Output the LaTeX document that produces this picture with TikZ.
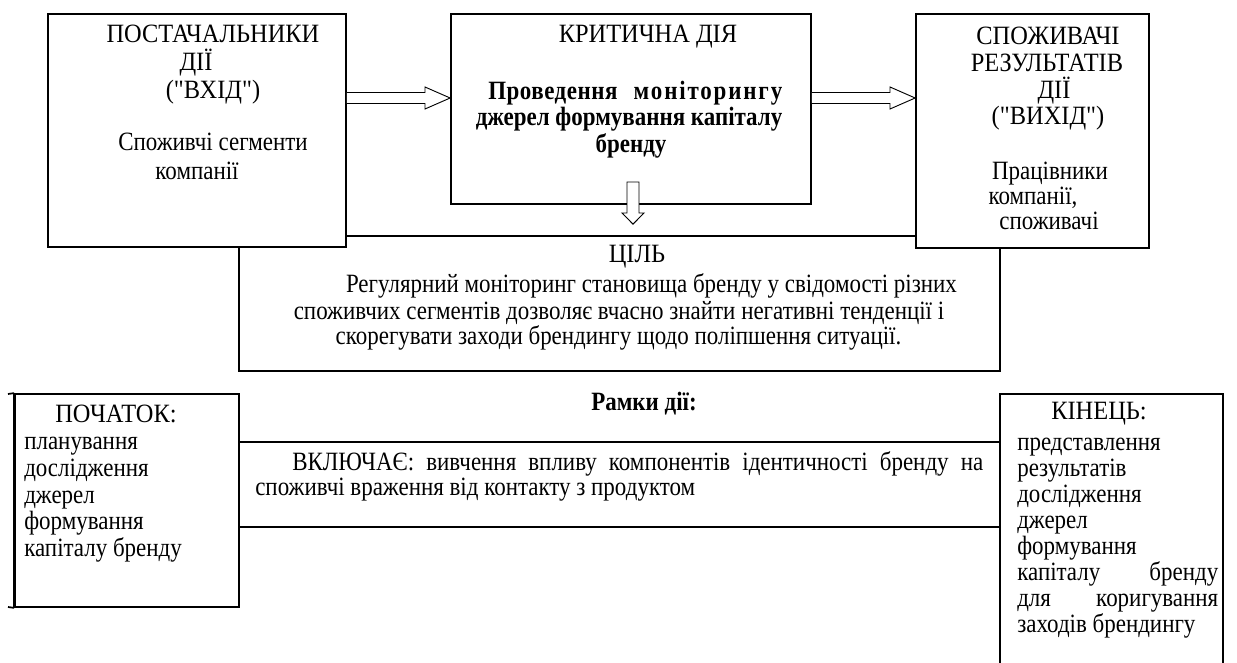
\documentclass[tikz,border=0pt]{standalone}
\usepackage{fontspec}
\setmainfont{Liberation Serif}[FakeStretch=0.87, Ligatures=TeXOff]
\newfontfamily\capf{Liberation Serif}[FakeStretch=0.925, Ligatures=TeXOff]
\usetikzlibrary{calc,fit}
\newcommand\fsz{\fontsize{19.8pt}{24pt}\selectfont}
\begin{document}
\begin{tikzpicture}[x=0.75pt,y=-0.75pt,
  box/.style={draw, line width=1.3pt, fill=white, inner sep=0pt},
  frame/.style={draw, line width=1.3pt, inner sep=0pt},
  ln/.style={line width=1.3pt},
  barrow/.style={draw, line width=0.7pt, fill=white, line join=miter},
  txt/.style={inner sep=0pt, anchor=base, font=\fsz},
  txtc/.style={inner sep=0pt, anchor=base, font=\fsz\capf},
  txtb/.style={inner sep=0pt, anchor=base, font=\fsz\bfseries},
  txtl/.style={inner sep=0pt, anchor=base west, font=\fsz}]
\path[use as bounding box] (0,0) rectangle (1237,663);
\clip (0,0) rectangle (1237,663);
\fill[white] (0,0) rectangle (1237,663);

% goal box (behind the upper boxes)
\node[frame, fit={(239,236) (1000,371)}] (g) {};
% upper boxes
\node[box, fit={(48,14) (346,247)}] (ps) {};
\node[box, fit={(451,14) (811,204)}] (kd) {};
\node[box, fit={(916,14) (1149,248)}] (sr) {};

% block arrows
\draw[barrow] (ps.east |- 0,92.5) -- (425,92.5) -- (425,87) -- (kd.west |- 0,98)
  -- (425,109) -- (425,103.5) -- (ps.east |- 0,103.5);
\draw[barrow] (kd.east |- 0,92.5) -- (890,92.5) -- (890,87) -- (sr.west |- 0,98)
  -- (890,109) -- (890,103.5) -- (kd.east |- 0,103.5);
\draw[barrow] (627,182) -- (639,182) -- (639,213) -- (644,213) -- ($(g.north -| 633,0)+(0,-11)$)
  -- (622,213) -- (627,213) -- cycle;

% texts of the upper-left box
\node[txtc] (t1) at (213,43) {ПОСТАЧАЛЬНИКИ};
\node[txtc] (t2) at (196,71) {ДІЇ};
\node[txtc] (t3) at (213,99) {("ВХІД")};
\node[txt] (t4) at (213,151) {Споживчі сегменти};
\node[txt] (t5) at (197,180) {компанії};

% texts of the middle box
\node[txtb, anchor=base west] (m2) at (488,100) {\makebox[220.5pt][l]{{\addfontfeature{LetterSpace=2}Проведення}\hfill{\addfontfeature{LetterSpace=7}моніторингу}}};
\node[txtc] (m1) at (648,43) {КРИТИЧНА ДІЯ};
\node[txtb] (m3) at (629,126) {джерел формування капіталу};
\node[txtb] (m4) at (631,152) {бренду};

% texts of the upper-right box
\node[txtc] (r1) at (1048,45) {СПОЖИВАЧІ};
\node[txtc] (r2) at (1047,72) {РЕЗУЛЬТАТІВ};
\node[txtc] (r3) at (1054,99) {ДІЇ};
\node[txtc] (r4) at (1048,125) {("ВИХІД")};
\node[txt] (r5) at (1050,180) {Працівники};
\node[txt] (r6) at (1033,204) {компанії,};
\node[txt] (r7) at (1049,229) {споживачі};

% goal texts
\node[txtc] (g1) at (637,262) {ЦІЛЬ};
\node[txt] (g2) at (651.5,292) {Регулярний моніторинг становища бренду у свідомості різних};
\node[txt] (g3) at (619,319) {споживчих сегментів дозволяє вчасно знайти негативні тенденції і};
\node[txt] (g4) at (618.5,344) {скорегувати заходи брендингу щодо поліпшення ситуації.};

% lower part
\node[frame, fit={(15,394) (239,607)}] (pb) {};
\node[frame, fit={(1000,394) (1223,700)}] (ke) {};
\draw[ln] (8,394) -- (pb.north west);
\draw[ln] (8,607) -- (pb.south west);
\draw[line width=2pt] (pb.north west) -- (pb.south west);
\draw[ln] (pb.east |- 0,442) -- (ke.west |- 0,442);
\draw[ln] (pb.east |- 0,527) -- (ke.west |- 0,527);

\node[txtb] (f1) at (644,410) {Рамки дії:};
\node[txtl] (f2) at (292,470) {\makebox[518.25pt][s]{ВКЛЮЧАЄ: вивчення впливу компонентів ідентичності бренду на}};
\node[txtl] (f3) at (255,495) {споживчі враження від контакту з продуктом};

\node[txtc] (p0) at (116,422) {ПОЧАТОК:};
\node[txtl] (p1) at (24,449) {планування};
\node[txtl] (p2) at (24,476) {дослідження};
\node[txtl] (p3) at (24,503) {джерел};
\node[txtl] (p4) at (24,529) {формування};
\node[txtl] (p5) at (24,556) {капіталу бренду};

\node[txtc] (k0) at (1099,419) {КІНЕЦЬ:};
\node[txtl] (k1) at (1017,450) {представлення};
\node[txtl] (k2) at (1017,476) {результатів};
\node[txtl] (k3) at (1017,502) {дослідження};
\node[txtl] (k4) at (1017,528) {джерел};
\node[txtl] (k5) at (1017,554) {формування};
\node[txtl] (k6) at (1017,580) {\makebox[150.75pt][l]{капіталу\hfill бренду}};
\node[txtl] (k7) at (1017,606) {\makebox[150.75pt][l]{для\hfill коригування}};
\node[txtl] (k8) at (1017,632) {заходів брендингу};
\end{tikzpicture}
\end{document}
